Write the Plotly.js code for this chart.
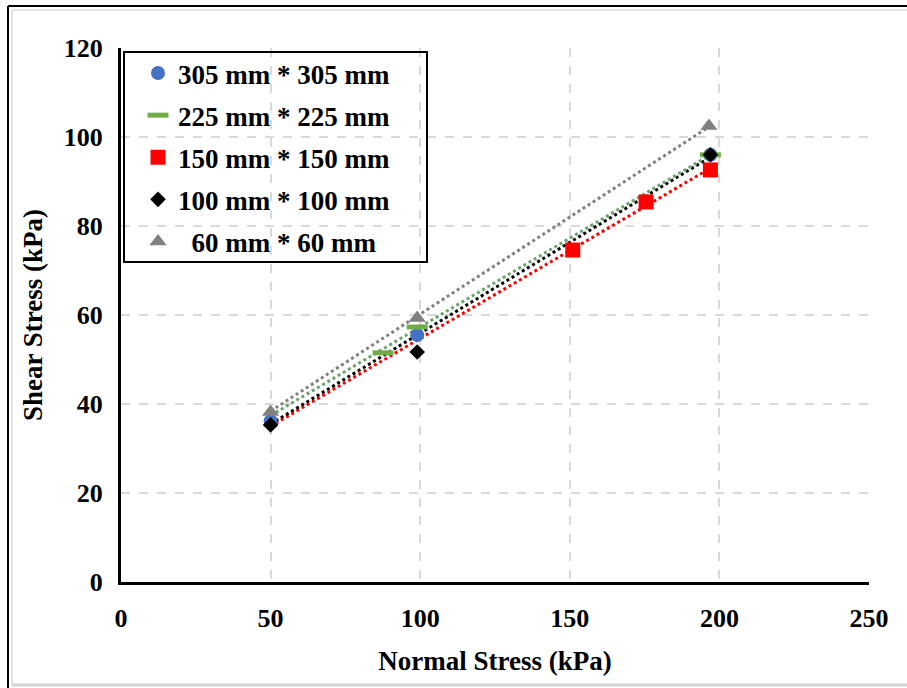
<!DOCTYPE html>
<html>
<head>
<meta charset="utf-8">
<script src="https://cdn.plot.ly/plotly-3.0.1.min.js"></script>
<style>
  html, body { margin: 0; padding: 0; background: #fff; }
  #chart { width: 907px; height: 688px; }
</style>
</head>
<body>
<div id="chart"></div>
<script>
// Direct shear test results: shear stress vs. normal stress for five box sizes
const seriesNames = ['305 mm * 305 mm', '225 mm * 225 mm', '150 mm * 150 mm', '100 mm * 100 mm', '\u00a0\u00a060 mm * 60 mm'];

const normal305 = [50, 99, 197];
const shear305  = [36.2, 55.5, 96.0];

const normal225 = [87.6, 99, 197];
const shear225  = [51.5, 57.3, 96.0];

const normal150 = [151, 175.5, 197];
const shear150  = [74.6, 85.4, 92.6];

const normal100 = [50, 99, 197];
const shear100  = [35.3, 51.7, 96.0];

const normal60 = [50, 99, 196.5];
const shear60  = [38.2, 59.3, 102.5];

// linear trendlines: shear stress at the start and end of the tested range
const trendNormal = [50, 197];
const trend225 = [37.4, 96.0];
const trend150 = [35.0, 93.0];
const trend100 = [35.5, 95.5];
const trend60  = [38.4, 102.5];

const xTicks = [0, 50, 100, 150, 200, 250];
const yTicks = [0, 20, 40, 60, 80, 100, 120];

const colors = {
  blue: '#4472C4', green: '#70AD47', sage: '#6aa36f', red: '#FF0000', black: '#000000', gray: '#808080'
};

function trend(ys, color) {
  return {
    x: trendNormal, y: ys, mode: 'lines', showlegend: false, hoverinfo: 'skip',
    line: { color: color, width: 3, dash: '3px,3px' }
  };
}

const traces = [
  trend(trend150, colors.red),
  trend(trend100, colors.black),
  trend(trend225, colors.sage),
  trend(trend60, colors.gray),
  { x: normal305, y: shear305, name: seriesNames[0], mode: 'markers', legendgroup: 'a',
    marker: { symbol: 'circle', size: 14, color: colors.blue } },
  { x: normal225, y: shear225, name: seriesNames[1], mode: 'markers', legendgroup: 'b',
    marker: { symbol: 'line-ew', size: 15, color: colors.green, line: { color: colors.green, width: 5 } } },
  { x: normal150, y: shear150, name: seriesNames[2], mode: 'markers', legendgroup: 'c',
    marker: { symbol: 'square', size: 15, color: colors.red } },
  { x: normal100, y: shear100, name: seriesNames[3], mode: 'markers', legendgroup: 'd',
    marker: { symbol: 'diamond', size: 12, color: colors.black } },
  { x: normal60, y: shear60, name: seriesNames[4], mode: 'markers', legendgroup: 'e',
    marker: { symbol: 'triangle-up', size: 15, color: colors.gray } }
];

const serif = '"Liberation Serif", "Times New Roman", serif';

// plot-area geometry in pixels, used to place the frame and legend box
const L = 121, T = 48, W = 748, H = 534;
const px = v => (v - L) / W;
const py = v => (T + H - v) / H;

const layout = {
  width: 907, height: 688,
  margin: { l: 121, r: 38, t: 48, b: 106 },
  paper_bgcolor: '#fff', plot_bgcolor: '#fff',
  font: { family: serif, color: '#000', size: 26, weight: 'bold' },
  showlegend: true,
  legend: {
    x: px(138), y: py(49), xanchor: 'left', yanchor: 'top',
    bgcolor: 'rgba(0,0,0,0)', borderwidth: 0,
    font: { family: serif, size: 27, color: '#000', weight: 'bold' },
    traceorder: 'grouped', tracegroupgap: 4
  },
  xaxis: {
    range: [0, 250], tickvals: xTicks, ticktext: xTicks.map(String),
    showgrid: true, gridcolor: '#d9d9d9', gridwidth: 2, griddash: 'dash',
    zeroline: false, showline: true, linecolor: '#000', linewidth: 3,
    ticks: '', ticklabelstandoff: 11,
    tickfont: { family: serif, size: 26, weight: 'bold' },
    title: { text: 'Normal Stress (kPa)', standoff: 19, font: { family: serif, size: 27, weight: 'bold' } }
  },
  yaxis: {
    range: [0, 120], tickvals: yTicks, ticktext: yTicks.map(String),
    showgrid: true, gridcolor: '#d9d9d9', gridwidth: 2, griddash: 'dash',
    zeroline: false, showline: true, linecolor: '#000', linewidth: 3,
    ticks: '', ticklabelstandoff: 10,
    tickfont: { family: serif, size: 26, weight: 'bold' },
    title: { text: 'Shear Stress (kPa)', standoff: 14, font: { family: serif, size: 27, weight: 'bold' } }
  },
  shapes: [
    // legend box
    { type: 'rect', xref: 'paper', yref: 'paper', x0: px(124), x1: px(427), y0: py(262), y1: py(52),
      line: { color: '#000', width: 2 }, fillcolor: 'rgba(0,0,0,0)', layer: 'above' },
    // outer frame: dark top/left edges, light shadow below
    { type: 'line', xref: 'paper', yref: 'paper', x0: px(8), x1: px(907), y0: py(6), y1: py(6), line: { color: '#000', width: 2 } },
    { type: 'line', xref: 'paper', yref: 'paper', x0: px(8), x1: px(8), y0: py(6), y1: py(688), line: { color: '#000', width: 2 } },
    { type: 'line', xref: 'paper', yref: 'paper', x0: px(12), x1: px(907), y0: py(10), y1: py(10), line: { color: '#e4e4e4', width: 2 } },
    { type: 'line', xref: 'paper', yref: 'paper', x0: px(12), x1: px(12), y0: py(10), y1: py(685), line: { color: '#e4e4e4', width: 2 } },
    { type: 'line', xref: 'paper', yref: 'paper', x0: px(12), x1: px(907), y0: py(685), y1: py(685), line: { color: '#d4d4d4', width: 3 } }
  ]
};

Plotly.newPlot('chart', traces, layout, { displayModeBar: false, staticPlot: true });
</script>
</body>
</html>
